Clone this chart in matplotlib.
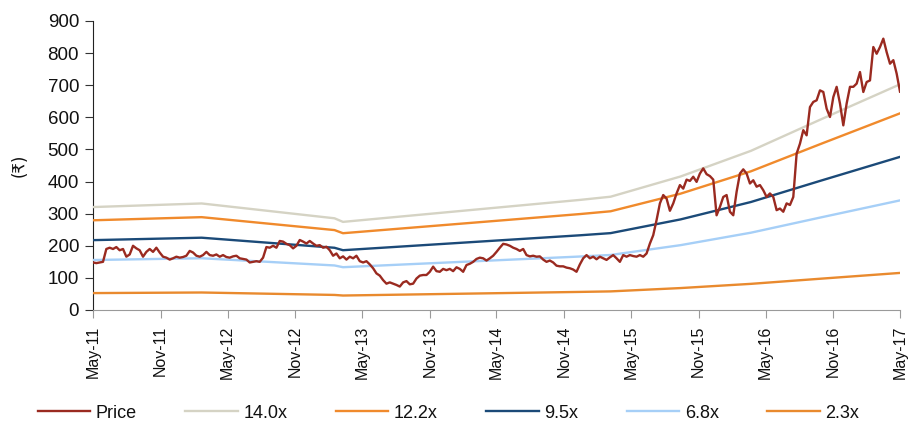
import matplotlib
matplotlib.use("Agg")
import matplotlib.pyplot as plt
import numpy as np
import pandas as pd

# ---------------- data ----------------
price_start = "2011-05-01"
price_end = "2017-05-01"
price = [
    # May-11 .. Oct-12
    148, 146, 148, 150, 190, 194, 190, 196, 186, 190, 166, 173, 200, 192, 186, 166,
    181, 190, 181, 194, 179, 166, 163, 157, 161, 166, 163, 165, 169, 184, 179, 169,
    166, 171, 181, 171, 169, 173, 166, 171, 165, 163, 167, 169, 161, 159, 157, 148,
    # Oct-12 .. Nov-13
    150, 152, 150, 163, 196, 194, 200, 194, 215, 213, 206, 202, 192, 200, 218, 213,
    207, 215, 207, 200, 202, 194, 197, 186, 169, 176, 161, 167, 157, 166, 161, 169,
    152, 148, 152, 142, 130, 114, 107, 93, 82, 86, 82, 78, 73, 86, 90, 80, 82, 98,
    # Nov-13 .. Apr-15
    107, 109, 109, 119, 135, 121, 119, 128, 124, 128, 121, 133, 128, 119, 140, 144,
    150, 159, 163, 161, 154, 161, 169, 181, 194, 206, 204, 200, 194, 190, 184, 190,
    171, 167, 169, 166, 167, 157, 150, 154, 148, 138, 136, 136, 132, 130, 126, 119,
    142, 161,
    # Apr-15 .. Mar-16
    171, 161, 166, 158, 166, 161, 156, 164, 171, 161, 150, 171, 166, 171, 168, 166,
    171, 166, 176, 207, 233, 280, 332, 358, 347, 309, 332, 363, 389, 378, 406, 402,
    415, 399, 425, 441, 423, 417, 406, 295, 321, 352, 358, 306, 295, 368, 425, 438,
    # Mar-16 .. May-17
    425, 394, 404, 384, 389, 373, 352, 363, 352, 311, 316, 306, 332, 327, 352, 487,
    518, 560, 544, 632, 648, 653, 684, 679, 627, 601, 663, 695, 643, 575, 643, 695,
    695, 705, 741, 679, 710, 715, 819, 798, 819, 845, 803, 767, 778, 736, 680,
]

eps_dates = ["2011-05-01", "2012-02-20", "2013-02-15", "2013-03-10", "2014-12-15",
             "2015-03-07", "2015-09-13", "2016-03-22", "2016-09-28", "2017-05-01"]
eps = [22.9, 23.7, 20.4, 19.6, 24.5, 25.2, 29.7, 35.4, 42.4, 50.2]

multiples = [14.0, 12.2, 9.5, 6.8, 2.3]
band_labels = ["14.0x", "12.2x", "9.5x", "6.8x", "2.3x"]
band_colors = ["#D5D3C4", "#F08A2C", "#1B4A78", "#A6CFF7", "#E98A2E"]
price_color = "#9A2A20"

xtick_labels = ["May-11", "Nov-11", "May-12", "Nov-12", "May-13", "Nov-13", "May-14",
                "Nov-14", "May-15", "Nov-15", "May-16", "Nov-16", "May-17"]
yticks = [0, 100, 200, 300, 400, 500, 600, 700, 800, 900]

# ---------------- plot ----------------
plt.rcParams["font.family"] = ["Liberation Sans", "DejaVu Sans"]

fig = plt.figure(figsize=(9.19, 4.25), dpi=100)
ax = fig.add_axes([93 / 919, 1 - 310 / 425, (900 - 93) / 919, (310 - 21) / 425])

pdates = pd.date_range(price_start, price_end, periods=len(price))
edates = pd.to_datetime(eps_dates)
eps_arr = np.array(eps)

handles = []
h, = ax.plot(pdates, price, color=price_color, lw=1.7, label="Price", zorder=5)
handles.append(h)
for m, lab, col in zip(multiples, band_labels, band_colors):
    h, = ax.plot(edates, eps_arr * m, color=col, lw=1.7, label=lab, zorder=3)
    handles.append(h)

ax.set_ylim(0, 900)
ax.set_yticks(yticks)
ax.set_xlim(pd.Timestamp(price_start), pd.Timestamp(price_end))
tick_dates = pd.to_datetime(["20" + s[-2:] + "-" + ("05" if s.startswith("May") else "11") + "-01"
                             for s in xtick_labels])
ax.set_xticks(tick_dates)
ax.set_xticklabels(xtick_labels, rotation=90, fontsize=11.5)

for s in ["top", "right"]:
    ax.spines[s].set_visible(False)
ax.spines["left"].set_color("#222222")
ax.spines["bottom"].set_color("#9a9a9a")
ax.tick_params(axis="y", direction="out", length=6, colors="#333333", labelsize=13.5,
               labelcolor="#111111", pad=4)
ax.tick_params(axis="x", direction="out", length=6, colors="#9a9a9a", labelcolor="#111111",
               pad=5)

ax.set_ylabel("(₹)", fontsize=12, family=["DejaVu Sans"], labelpad=14, color="#111111")

fig.legend(handles=handles, loc="center", bbox_to_anchor=(0.488, 0.028), ncol=6,
           frameon=False, fontsize=13, handlelength=2.9, handletextpad=0.3,
           columnspacing=2.7, labelcolor="#111111")

fig.savefig("out.png", dpi=100)
